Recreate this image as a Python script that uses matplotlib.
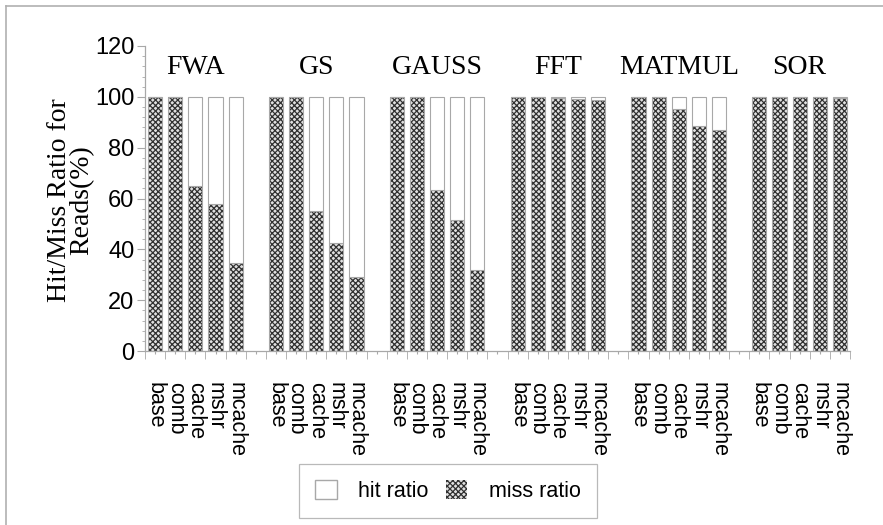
import matplotlib
matplotlib.use("Agg")
import matplotlib.pyplot as plt
import numpy as np
from matplotlib.lines import Line2D
from matplotlib.patches import Patch

plt.rcParams["hatch.linewidth"] = 0.9

gruppi = ["FWA", "GS", "GAUSS", "FFT", "MATMUL", "SOR"]
configurazioni = ["base", "comb", "cache", "mshr", "mcache"]

# miss ratio (%) per gruppo, nell'ordine delle configurazioni
miss_fwa = [100, 100, 65, 58, 34.5]
miss_gs = [100, 100, 55, 42.5, 29]
miss_gauss = [100, 100, 63.5, 51.5, 32]
miss_fft = [100, 100, 99.5, 99, 98.7]
miss_matmul = [100, 100, 95.3, 88.7, 86.8]
miss_sor = [100, 100, 99.8, 100, 99.5]

miss = [miss_fwa, miss_gs, miss_gauss, miss_fft, miss_matmul, miss_sor]

fig = plt.figure(figsize=(8.83, 5.25), dpi=100)
ax = fig.add_axes([145 / 883, 1 - 351 / 525, 705 / 883, 305 / 525])

grigio_bordo = "#a8a8a8"
colore_trama = "#303030"
trama = "xxxxxx"

for g, valori in enumerate(miss):
    for j, v in enumerate(valori):
        x = 6 * g + j + 0.5
        hit = 100 - v
        # trama scura (il colore della trama segue edgecolor), poi il contorno chiaro
        ax.bar(x, v, width=0.7, color="#e0e0e0", edgecolor=colore_trama,
               hatch=trama, linewidth=0)
        ax.bar(x, v, width=0.7, fill=False, edgecolor=grigio_bordo, linewidth=0.8)
        ax.bar(x, hit, width=0.7, bottom=v, color="white",
               edgecolor=grigio_bordo, linewidth=0.8)
    ax.text(6 * g + 2.5, 111.5, gruppi[g], ha="center", va="center",
            fontsize=20, family="Liberation Serif")

# tacche: brevi al centro di ogni slot, lunghe ai bordi
centri = np.arange(35) + 0.5
etichette = []
for i in range(35):
    g, j = divmod(i, 6)
    etichette.append(configurazioni[j] if j < 5 else "")
ax.set_xticks(centri)
ax.set_xticklabels(etichette, rotation=270, fontsize=15.5,
                   family="Liberation Sans", va="top", ha="center")
ax.set_xticks(np.arange(36), minor=True)
ax.tick_params(axis="x", which="major", length=2, pad=20, direction="out",
               color=grigio_bordo)
ax.tick_params(axis="x", which="minor", length=6, color=grigio_bordo)

ax.set_ylim(0, 120)
ax.set_xlim(0, 35)
ax.set_yticks(np.arange(0, 121, 20))
ax.set_yticks(np.arange(0, 121, 4), minor=True)
ax.tick_params(axis="y", which="major", length=6, color=grigio_bordo,
               labelsize=17, pad=1.5)
ax.tick_params(axis="y", which="minor", length=2, color=grigio_bordo)
for lbl in ax.get_yticklabels():
    lbl.set_family("Liberation Sans")

for lato in ["top", "right"]:
    ax.spines[lato].set_visible(False)
for lato in ["left", "bottom"]:
    ax.spines[lato].set_color(grigio_bordo)
    ax.spines[lato].set_linewidth(0.9)

ax.set_ylabel("Hit/Miss Ratio for\nReads(%)", fontsize=20,
              family="Liberation Serif", linespacing=0.85, va="center")
ax.yaxis.set_label_coords(-0.105, 0.495)

maniglie = [
    Patch(facecolor="white", edgecolor=grigio_bordo, label="hit ratio"),
    Patch(facecolor="#e0e0e0", edgecolor=colore_trama, hatch=trama, linewidth=0,
          label="miss ratio"),
]
leg = fig.legend(handles=maniglie, loc="center", ncol=2,
                 bbox_to_anchor=(448 / 883, 1 - 491 / 525), frameon=True,
                 fancybox=False, prop={"family": "Liberation Sans", "size": 15.5},
                 handlelength=1.0, handleheight=1.0, borderpad=0.75,
                 columnspacing=0.8, handletextpad=1.0)
leg.get_frame().set_edgecolor(grigio_bordo)
leg.get_frame().set_linewidth(0.9)

# cornice esterna della figura
fig.add_artist(Line2D([6 / 883, 1], [1 - 6 / 525] * 2, transform=fig.transFigure,
                      color="#b0b0b0", linewidth=1.2))
fig.add_artist(Line2D([6 / 883] * 2, [0, 1 - 6 / 525], transform=fig.transFigure,
                      color="#b0b0b0", linewidth=1.2))

fig.savefig("out.png", dpi=100)
